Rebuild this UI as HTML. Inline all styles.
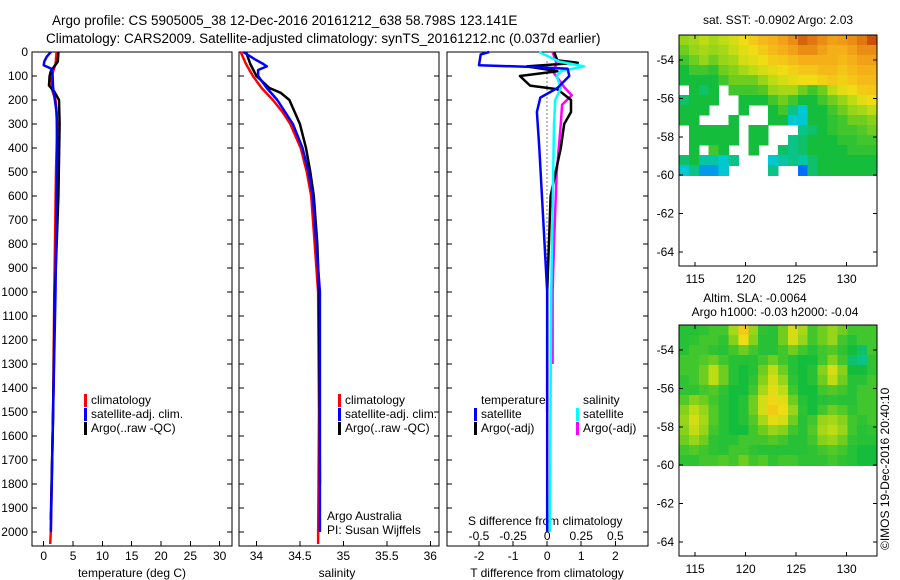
<!DOCTYPE html>
<html><head><meta charset="utf-8"><style>
html,body{margin:0;padding:0;background:#fff;width:900px;height:580px;overflow:hidden}
svg{display:block;font-family:"Liberation Sans",sans-serif}
text{fill:#000}
</style></head><body>
<svg id="chart" width="900" height="580" viewBox="0 0 900 580" xmlns="http://www.w3.org/2000/svg" shape-rendering="crispEdges">
<text x="52" y="25" font-size="13.5">Argo profile: CS 5905005_38 12-Dec-2016 20161212_638 58.798S 123.141E</text>
<text x="46" y="43" font-size="13.5">Climatology: CARS2009. Satellite-adjusted climatology: synTS_20161212.nc (0.037d earlier)</text>
<text x="778" y="24" font-size="12" text-anchor="middle">sat. SST: -0.0902 Argo: 2.03</text>
<text x="755" y="302" font-size="12" text-anchor="middle">Altim. SLA: -0.0064</text>
<text x="775" y="316" font-size="12" text-anchor="middle">Argo h1000: -0.03 h2000: -0.04</text>
<text font-size="12" transform="translate(889,550) rotate(-90)">©IMOS 19-Dec-2016 20:40:10</text>
<text x="327" y="520" font-size="12">Argo Australia</text>
<text x="327" y="534" font-size="12">PI: Susan Wijffels</text>
<text x="468" y="525" font-size="12">S difference from climatology</text>
<text x="132" y="577" font-size="12" text-anchor="middle">temperature (deg C)</text>
<text x="337" y="577" font-size="12" text-anchor="middle">salinity</text>
<text x="547" y="577" font-size="12" text-anchor="middle">T difference from climatology</text>
<g id="g"></g>
</svg>
<script>
// ---------- data ----------
const depthTicks=[0,100,200,300,400,500,600,700,800,900,1000,1100,1200,1300,1400,1500,1600,1700,1800,1900,2000];
const tTicks=[0,5,10,15,20,25,30];
const sTicks=[34,34.5,35,35.5,36];
const dTTicks=[-2,-1,0,1,2];
const dSTicks=[-0.5,-0.25,0,0.25,0.5];
const dSTickLabels=["-0.5","-0.25","0","0.25","0.5"];
const lonTicks=[115,120,125,130];
const latTicks=[-54,-56,-58,-60,-62,-64];

const tClimDepth=[0,30,50,80,100,150,200,300,500,1000,1500,2000,2050];
const tClim=[2.2,2.1,2.0,1.6,1.4,1.3,2.0,2.3,2.1,1.8,1.6,1.2,1.1];
const tSatDepth=[0,20,40,55,70,90,150,250,400,1000,1500,2000];
const tSat=[1.2,0.5,0.1,0.0,1.3,1.5,1.6,2.2,2.3,2.0,1.6,1.2];
const tArgoDepth=[0,40,60,80,100,140,165,200,300,600,1000,1500,1950];
const tArgo=[2.5,2.4,1.8,1.2,1.0,0.9,1.8,2.6,2.7,2.5,1.9,1.6,1.2];

const sClimDepth=[0,50,100,150,200,250,300,400,500,600,800,1000,1500,2050];
const sClim=[33.82,33.88,33.96,34.06,34.19,34.3,34.39,34.51,34.58,34.63,34.67,34.71,34.72,34.71];
const sSatDepth=[0,30,50,60,75,100,150,200,300,400,500,600,800,1000,2000];
const sSat=[33.85,33.98,34.08,34.12,34.02,34.02,34.12,34.24,34.42,34.53,34.6,34.65,34.69,34.73,34.73];
const sArgoDepth=[0,50,100,150,170,200,300,400,500,600,800,1000,1800];
const sArgo=[33.88,33.93,34.0,34.15,34.28,34.38,34.5,34.57,34.62,34.66,34.7,34.72,34.73];

const dTArgoDepth=[0,35,45,60,80,100,140,155,200,250,300,400,600,1000,1500];
const dTArgo=[0.2,0.3,0.9,-0.6,0.3,-0.8,-0.5,0.3,0.7,0.7,0.5,0.4,0.1,0.0,0.0];
const dTSatDepth=[0,10,55,62,70,100,150,190,250,400,1000,2000];
const dTSat=[-1.7,-1.95,-2.0,-0.5,0.6,0.65,0.3,-0.2,-0.3,-0.23,0.0,0.0];
const dSSatDepth=[0,40,60,80,100,150,200,300,1000,2000];
const dSSat=[-0.06,0.09,0.27,0.1,0.07,0.1,0.06,0.05,0.03,0.02];
const dSArgoDepth=[0,50,80,150,180,220,300,500,800,1000,1300];
const dSArgo=[0.04,0.07,0.04,0.13,0.18,0.11,0.1,0.07,0.05,0.04,0.04];

const sstGrid=[
[.6,.62,.65,.62,.65,.68,.72,.75,.78,.8,.82,.85,.9,.88,.85,.82,.83,.85,.88,.92],
[.55,.6,.62,.6,.62,.66,.7,.72,.75,.78,.8,.82,.85,.85,.82,.8,.8,.82,.85,.85],
[.5,.55,.6,.55,.6,.62,.68,.7,.72,.75,.76,.78,.8,.8,.8,.8,.78,.8,.82,.82],
[.45,.5,.5,.48,.55,.58,.62,.65,.68,.7,.72,.74,.76,.76,.78,.78,.76,.78,.8,.8],
[.45,.45,.45,.45,.5,.55,.55,.55,.6,.65,.68,.7,.72,.72,.74,.76,.74,.76,.78,.78],
[null,.45,.42,.45,null,.5,.5,.5,.52,.6,.62,.62,.55,.5,.55,.65,.7,.72,.75,.76],
[.42,.45,.45,.45,null,null,.45,.45,.45,.5,.55,.5,.45,.45,.5,.55,.6,.65,.7,.72],
[.45,.45,.45,null,null,null,.45,null,null,.45,.5,.4,.35,.45,.45,.5,.55,.6,.62,.65],
[.45,.45,null,null,null,.45,null,null,null,.45,.45,.35,.35,.45,.45,.48,.5,.55,.55,.58],
[null,.45,.45,.45,.45,.45,null,.45,.45,null,null,null,.4,.42,.45,.48,.5,.5,.52,.55],
[null,.45,.45,.45,.45,.45,null,.45,.45,null,null,.4,.42,.45,.45,.45,.48,.48,.5,.5],
[null,.45,null,.5,.45,null,null,.45,null,null,.42,.4,.42,.45,.45,.45,.45,.48,.48,.48],
[.42,.45,.38,.38,.35,.4,null,null,null,.35,.38,.4,.38,.42,.45,.45,.45,.45,.45,.45],
[.35,.4,.3,.3,.35,null,null,null,null,.4,null,null,.25,.42,.45,.45,.45,.45,.45,.45]];
const slaGrid=[
[.47,.47,.48,.5,.5,.62,.75,.6,.48,.47,.55,.68,.62,.5,.55,.6,.55,.5,.5,.5],
[.47,.48,.5,.5,.48,.58,.72,.58,.47,.47,.55,.68,.6,.5,.55,.6,.5,.47,.5,.5],
[.47,.5,.5,.48,.47,.5,.55,.5,.47,.47,.5,.55,.5,.47,.5,.52,.48,.45,.42,.5],
[.5,.5,.52,.55,.5,.47,.47,.47,.5,.55,.5,.47,.45,.45,.5,.58,.5,.42,.4,.48],
[.5,.5,.55,.65,.55,.47,.45,.47,.55,.65,.55,.47,.45,.47,.58,.68,.58,.45,.45,.48],
[.48,.5,.55,.65,.55,.47,.45,.48,.58,.68,.6,.48,.45,.47,.55,.65,.55,.47,.47,.5],
[.48,.48,.5,.52,.48,.45,.45,.5,.62,.7,.65,.5,.45,.45,.5,.52,.5,.47,.5,.5],
[.52,.58,.55,.5,.47,.45,.47,.55,.68,.73,.7,.55,.47,.45,.47,.48,.47,.47,.5,.5],
[.58,.65,.6,.52,.47,.45,.47,.55,.68,.75,.72,.6,.48,.45,.5,.55,.52,.48,.5,.5],
[.6,.68,.62,.52,.47,.45,.47,.52,.62,.7,.68,.55,.47,.5,.6,.62,.58,.5,.48,.5],
[.58,.66,.6,.5,.47,.45,.45,.5,.55,.6,.58,.5,.47,.52,.62,.65,.6,.5,.47,.48],
[.55,.6,.55,.48,.47,.47,.5,.5,.5,.52,.5,.47,.47,.5,.58,.6,.55,.48,.47,.47],
[.5,.52,.5,.48,.47,.5,.5,.48,.47,.47,.47,.47,.47,.48,.5,.52,.5,.47,.45,.45],
[.48,.48,.5,.5,.52,.5,.55,.5,.52,.48,.5,.5,.48,.48,.48,.5,.48,.47,.45,.45]];

// ---------- helpers ----------
const NS="http://www.w3.org/2000/svg";
const G=document.getElementById('g');
function el(tag,attrs,parent){const e=document.createElementNS(NS,tag);for(const k in attrs)e.setAttribute(k,attrs[k]);(parent||G).appendChild(e);return e;}
const yTop=52, pxPerM=0.24, yBot=546;
const yD=d=>yTop+d*pxPerM;
const panels=[
 {name:'temperature',x0:32,x1:232,v0:-2,v1:32.1},
 {name:'salinity',x0:239,x1:439,v0:33.8,v1:36.1},
 {name:'difference',x0:447,x1:648,v0:-2.94,v1:2.96}];
const sx=(p,v)=>p.x0+(v-p.v0)/(p.v1-p.v0)*(p.x1-p.x0);

panels.forEach((p,i)=>{
  const r=el('rect',{x:p.x0,y:yTop,width:p.x1-p.x0,height:yBot-yTop,fill:'none',stroke:'#000','stroke-width':1});
  
  
  depthTicks.forEach(d=>{
    const t=el('path',{d:`M${p.x0},${yD(d)}h5M${p.x1},${yD(d)}h-5`,stroke:'#000'});
    
    
    if(i===0){
      const tx=el('text',{x:p.x0-4,y:yD(d)+4,'font-size':12,'text-anchor':'end'});
      tx.textContent=d;
      
      
    }
  });
});
function xTicks(p,vals,labels,yLab){
  vals.forEach((v,k)=>{
    const x=sx(p,v);
    const t=el('path',{d:`M${x},${yBot}v-5`,stroke:'#000'});
    
    
    const tx=el('text',{x:x,y:yLab,'font-size':12,'text-anchor':'middle'});
    tx.textContent=labels?labels[k]:v;
    
    
  });
}
xTicks(panels[0],tTicks,null,560);
xTicks(panels[1],sTicks,null,560);
xTicks(panels[2],dTTicks,null,560);
dSTicks.forEach((v,k)=>{
  const tx=el('text',{x:sx(panels[2],v*4),y:540,'font-size':12,'text-anchor':'middle'});
  tx.textContent=dSTickLabels[k];
  
  
});
const z=el('path',{d:`M${sx(panels[2],0)},${yD(40)}V${yD(1000)}`,stroke:'#000','stroke-dasharray':'1,3'});



function line(p,depths,vals,color,name,scale){
  const pts=depths.map((d,k)=>`${sx(p,vals[k]*(scale||1)).toFixed(1)},${yD(d).toFixed(1)}`).join(' ');
  const l=el('polyline',{points:pts,fill:'none',stroke:color,'stroke-width':2.5,'stroke-linejoin':'round','shape-rendering':'auto'});
  
  
}
line(panels[0],tClimDepth,tClim,'#ff0000','temperature-climatology-line');
line(panels[0],tArgoDepth,tArgo,'#000000','temperature-argo-line');
line(panels[0],tSatDepth,tSat,'#0000ff','temperature-satellite-line');
line(panels[1],sClimDepth,sClim,'#ff0000','salinity-climatology-line');
line(panels[1],sArgoDepth,sArgo,'#000000','salinity-argo-line');
line(panels[1],sSatDepth,sSat,'#0000ff','salinity-satellite-line');
line(panels[2],dSArgoDepth,dSArgo,'#ff00ff','s-diff-argo-line',4);
line(panels[2],dTArgoDepth,dTArgo,'#000000','t-diff-argo-line');
line(panels[2],dSSatDepth,dSSat,'#00ffff','s-diff-satellite-line',4);
line(panels[2],dTSatDepth,dTSat,'#0000ff','t-diff-satellite-line');

function legend(x,y,color,label,name){
  const b=el('rect',{x:x,y:y-10,width:3,height:13,fill:color});
  
  
  const t=el('text',{x:x+7,y:y,'font-size':12});
  t.textContent=label;
  
  
}
[84,338].forEach(x=>{
  legend(x,404,'#ff0000','climatology','legend-climatology');
  legend(x,418,'#0000ff','satellite-adj. clim.','legend-satellite-adj');
  legend(x,432,'#000000','Argo(..raw -QC)','legend-argo');
});
{const t=el('text',{x:481,y:404,'font-size':12});t.textContent='temperature';

}
{const t=el('text',{x:583,y:404,'font-size':12});t.textContent='salinity';

}
legend(474,418,'#0000ff','satellite','legend-t-satellite');
legend(474,432,'#000000','Argo(-adj)','legend-t-argo');
legend(576,418,'#00ffff','satellite','legend-s-satellite');
legend(576,432,'#ff00ff','Argo(-adj)','legend-s-argo');

// ---------- maps ----------
const stops=[[0,[0,0,140]],[0.25,[0,110,255]],[0.35,[0,200,210]],[0.45,[20,190,60]],[0.55,[110,205,30]],[0.65,[190,220,20]],[0.72,[240,220,20]],[0.8,[245,175,25]],[0.88,[225,120,15]],[0.95,[185,50,0]],[1,[140,0,0]]];
function cmap(v){for(let i=1;i<stops.length;i++){if(v<=stops[i][0]){const [a,ca]=stops[i-1],[b,cb]=stops[i];const f=(v-a)/(b-a);return `rgb(${ca.map((c,k)=>Math.round(c+(cb[k]-c)*f)).join(',')})`;}}return 'rgb(140,0,0)';}
const mx0=679,mx1=877,lon0=113.4,lon1=133,latTop=-52.7,pxLat=19.2;
const lx=l=>mx0+(l-lon0)/(lon1-lon0)*(mx1-mx0);
function drawMap(top,grid,name){
  const ly=l=>top+(latTop-l)*pxLat;
  const rows=grid.length,cols=grid[0].length;
  const cw=(mx1-mx0)/cols, ch=(ly(-60)-top)/rows;
  grid.forEach((row,r)=>row.forEach((v,c)=>{
    if(v===null)return;
    const cell=el('rect',{x:(mx0+c*cw).toFixed(2),y:(top+r*ch).toFixed(2),width:(cw+0.6).toFixed(2),height:(ch+0.6).toFixed(2),fill:cmap(v)});
    
    
  }));
  const bottom=top+231;
  const f=el('rect',{x:mx0,y:top,width:mx1-mx0,height:bottom-top,fill:'none',stroke:'#000'});
  
  
  latTicks.forEach(l=>{
    const t=el('path',{d:`M${mx0},${ly(l)}h4M${mx1},${ly(l)}h-4`,stroke:'#000'});
    
    
    const tx=el('text',{x:mx0-5,y:ly(l)+4,'font-size':12,'text-anchor':'end'});
    tx.textContent=l;
    
    
  });
  lonTicks.forEach(l=>{
    const t=el('path',{d:`M${lx(l)},${top}v4M${lx(l)},${bottom}v-4`,stroke:'#000'});
    
    
    const tx=el('text',{x:lx(l),y:bottom+17,'font-size':12,'text-anchor':'middle'});
    tx.textContent=l;
    
    
  });
}
drawMap(35,sstGrid,'sst-map');
drawMap(325,slaGrid,'sla-map');
</script>
</body></html>
